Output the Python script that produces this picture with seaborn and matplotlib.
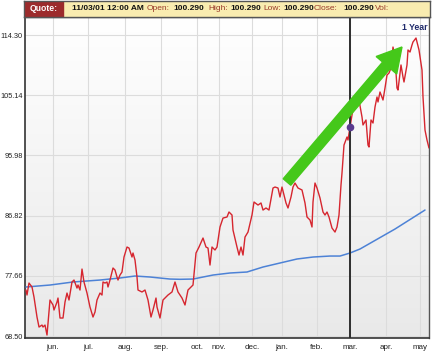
import numpy as np
import pandas as pd
import matplotlib
matplotlib.use("Agg")
import matplotlib.pyplot as plt
import seaborn as sns
from matplotlib.colors import LinearSegmentedColormap
from matplotlib.patches import FancyArrow, Rectangle
from matplotlib.transforms import IdentityTransform

# ---------------- data ----------------
price_days = [
    1, 2, 4, 7, 9, 12, 14, 17, 18, 20,
    22, 25, 28, 29, 32, 33, 35, 38, 40, 42,
    44, 47, 49, 52, 53, 55, 57, 59, 62, 65,
    68, 70, 72, 75, 77, 78, 80, 82, 83, 85,
    88, 90, 92, 93, 95, 97, 99, 102, 104, 107,
    108, 110, 112, 113, 117, 120, 123, 126, 128, 131,
    132, 135, 138, 140, 143, 147, 150, 153, 157, 160,
    163, 168, 171, 174, 178, 181, 183, 185, 187, 190,
    192, 195, 198, 202, 204, 207, 208, 212, 214, 216,
    218, 220, 223, 227, 229, 233, 236, 238, 241, 244,
    248, 250, 253, 255, 257, 259, 261, 263, 266, 268,
    270, 273, 277, 280, 282, 285, 287, 288, 290, 292,
    295, 298, 300, 302, 304, 307, 310, 312, 314, 316,
    317, 319, 322, 323, 325, 327, 328, 332, 334, 337,
    338, 341, 343, 344, 346, 348, 350, 352, 353, 355,
    358, 360, 362, 364, 366, 368, 370, 372, 373, 376,
    378, 379, 382, 383, 385, 387, 388, 391, 392, 394,
    397, 398, 400, 402, 404,
]
price_values = [
    75.50, 74.74, 76.56, 75.96, 74.43, 71.39, 69.87, 70.17, 69.87, 70.17,
    68.65, 73.98, 73.22, 72.46, 73.67, 74.28, 71.24, 71.24, 73.67, 75.04,
    73.98, 76.72, 77.02, 75.80, 76.26, 75.50, 78.69, 76.72, 75.04, 72.91,
    71.39, 72.15, 73.98, 75.04, 74.74, 76.72, 76.56, 76.72, 75.96, 77.02,
    78.85, 78.54, 77.48, 77.02, 77.78, 78.24, 80.52, 82.04, 81.89, 80.52,
    81.13, 80.06, 77.48, 75.50, 75.20, 75.50, 73.98, 71.39, 72.46, 74.28,
    72.91, 71.24, 73.98, 74.28, 74.74, 75.20, 76.72, 75.20, 74.28, 73.22,
    75.50, 76.26, 81.13, 82.04, 83.41, 82.04, 81.89, 79.30, 82.04, 81.59,
    82.04, 85.09, 86.45, 86.61, 87.37, 86.91, 84.63, 82.04, 80.82, 82.04,
    80.82, 83.56, 84.32, 86.91, 88.89, 88.43, 88.74, 87.67, 87.98, 87.67,
    91.02, 91.17, 91.02, 89.65, 91.17, 89.95, 88.74, 87.98, 89.65, 91.17,
    91.78, 91.02, 90.72, 88.74, 86.61, 86.15, 85.09, 88.89, 91.78, 91.02,
    89.50, 87.37, 86.91, 87.37, 86.61, 84.93, 84.32, 85.09, 86.91, 91.48,
    93.30, 97.56, 98.78, 98.32, 100.29, 102.13, 102.89, 103.95, 104.41, 101.82,
    100.61, 101.37, 97.56, 97.26, 101.37, 100.91, 103.34, 104.87, 104.11, 105.63,
    104.41, 106.24, 108.21, 108.52, 109.28, 112.47, 110.95, 106.24, 105.93, 109.74,
    107.91, 107.15, 109.74, 112.02, 111.71, 112.78, 113.24, 113.84, 113.24, 112.02,
    108.97, 104.87, 99.84, 98.32, 97.11,
]
ma_days = [1, 25, 48, 75, 95, 110, 125, 145, 155, 168, 188, 205, 222,
           238, 255, 272, 288, 305, 315, 325, 335, 370, 400]
ma_values = [75.96, 76.26, 76.72, 77.02, 77.33, 77.63, 77.48, 77.17, 77.13,
             77.17, 77.78, 78.09, 78.24, 79.00, 79.61, 80.22, 80.52, 80.67,
             80.67, 81.13, 81.74, 84.78, 87.67]

month_ticks = [28, 63, 100, 136, 172, 194, 227, 257, 292, 325, 361, 395]
month_labels = ['jun.', 'jul.', 'aug.', 'sep.', 'oct.', 'nov.', 'dec.',
                'jan.', 'feb.', 'mar.', 'apr.', 'may']
y_ticks = [68.50, 77.66, 86.82, 95.98, 105.14, 114.30]

quote_day = 325
quote_close = 100.290
header_items = [
    ("11/03/01 12:00 AM", "bold", "#111111", 72),
    ("Open:", "normal", "#9a3a2a", 147),
    ("100.290", "bold", "#111111", 173),
    ("High:", "normal", "#9a3a2a", 208),
    ("100.290", "bold", "#111111", 230),
    ("Low:", "normal", "#9a3a2a", 263),
    ("100.290", "bold", "#111111", 283),
    ("Close:", "normal", "#9a3a2a", 314),
    ("100.290", "bold", "#111111", 343),
    ("Vol:", "normal", "#9a3a2a", 375),
]

df_price = pd.DataFrame({"day": price_days, "price": price_values})
df_ma = pd.DataFrame({"day": ma_days, "price": ma_values})

# ---------------- style ----------------
sns.set_style("white")
plt.rcParams['font.family'] = ['Liberation Sans', 'DejaVu Sans']

W, H = 433, 356
fig = plt.figure(figsize=(W / 100, H / 100), dpi=100)
fig.patch.set_facecolor("white")

ax = fig.add_axes([25 / W, 18 / H, 404 / W, 321 / H])

# gradient background
cmap = LinearSegmentedColormap.from_list("bg", ["#ffffff", "#e9e9e9"])
ax.imshow(np.linspace(0, 1, 256)[:, None], extent=[0, 1, 0, 1],
          transform=ax.transAxes, aspect="auto", cmap=cmap, zorder=0)

ax.set_xlim(0, 404)
ax.set_ylim(68.2, 117.04)

for t in month_ticks:
    ax.axvline(t, color="#dcdcdc", lw=0.8, zorder=1)
for t in y_ticks:
    ax.axhline(t, color="#dcdcdc", lw=0.8, zorder=1)

sns.lineplot(data=df_ma, x="day", y="price", ax=ax, color="#4d82d6",
             lw=1.1, estimator=None, zorder=3)
sns.lineplot(data=df_price, x="day", y="price", ax=ax, color="#d6262f",
             lw=1.0, estimator=None, zorder=4)

ax.axvline(quote_day, color="#2e2e2e", lw=1.4, zorder=5)
ax.scatter([quote_day], [quote_close], s=20, color="#5a3a8e", zorder=6)

ax.set_xticks(month_ticks)
ax.set_xticklabels(month_labels)
ax.set_yticks(y_ticks)
ax.set_yticklabels([f"{v:.2f}" for v in y_ticks])
ax.tick_params(axis="both", length=0, colors="#222222")
ax.tick_params(axis="x", pad=4, labelsize=5.8)
ax.tick_params(axis="y", pad=1.5, labelsize=5.3)
ax.set_xlabel("")
ax.set_ylabel("")
for side in ["left", "bottom"]:
    ax.spines[side].set_color("#333333")
    ax.spines[side].set_linewidth(1.2)
for side in ["right", "top"]:
    ax.spines[side].set_color("#555555")
    ax.spines[side].set_linewidth(1.0)

# header bar
hax = fig.add_axes([24 / W, 1 - 17 / H, 406 / W, 16 / H])
hax.set_facecolor("#f9ecb0")
hax.set_xticks([])
hax.set_yticks([])
for s in hax.spines.values():
    s.set_color("#555555")
    s.set_linewidth(1.0)
hax.add_patch(Rectangle((0, 0), 39 / 406, 1, transform=hax.transAxes,
                        color="#9c2b2c", zorder=2))
fig.text(44 / W, 1 - 8.5 / H, "Quote:", color="white", fontsize=6.2,
         fontweight="bold", ha="center", va="center")
for txt, wt, col, px in header_items:
    fig.text(px / W, 1 - 9 / H, txt, color=col, fontsize=6.0,
             fontweight=wt, ha="left", va="center")

fig.text(428 / W, 1 - 28 / H, "1 Year", color="#1f2a6b", fontsize=6.3,
         fontweight="bold", ha="right", va="center")

# green trend arrow (annotation in pixel coordinates)
arrow = FancyArrow(287, 174, 115, 135, width=10, head_width=27,
                   head_length=24, length_includes_head=True,
                   transform=IdentityTransform(), color="#45c81a", zorder=10)
fig.add_artist(arrow)

fig.savefig("out.png", dpi=100)
